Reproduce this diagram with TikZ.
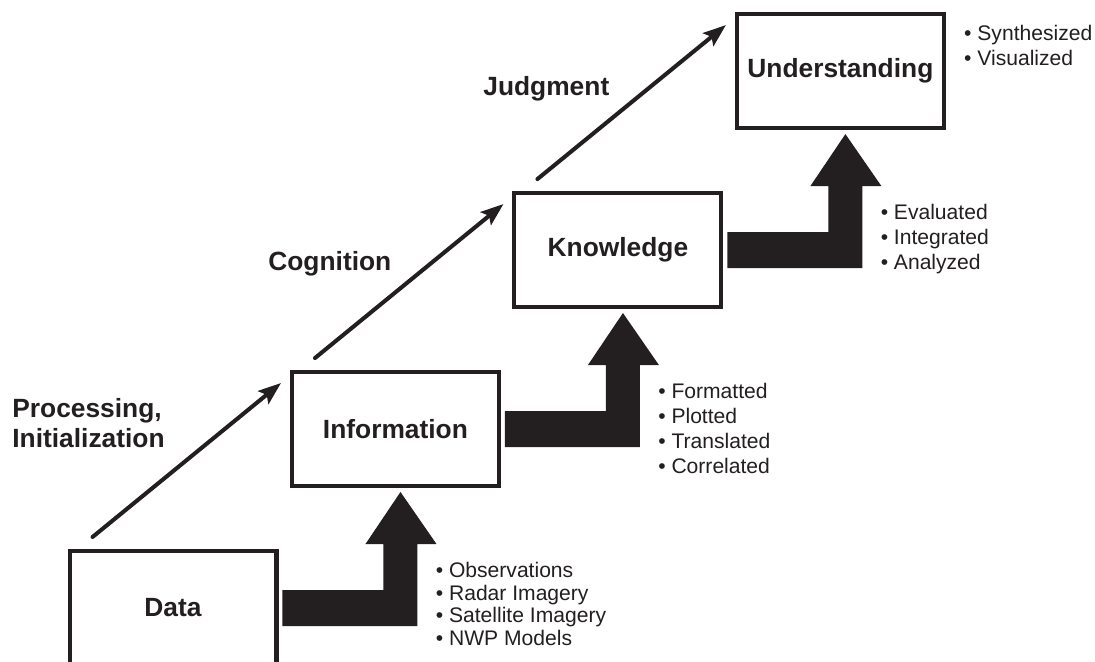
\documentclass[tikz,border=0pt]{standalone}
\usepackage{fontspec}
\setmainfont{Liberation Sans}
\usepackage{tikz}
\usetikzlibrary{positioning,calc,arrows.meta}
\definecolor{ink}{HTML}{231F20}

\begin{document}
\begin{tikzpicture}[
    x=0.02cm, y=-0.02cm,
    stage/.style={draw=ink, line width=2.3pt, outer sep=0pt, minimum width=4.14cm, minimum height=2.28cm, text=ink, font=\fontsize{15}{18}\selectfont\bfseries},
    phase/.style={text=ink, align=left, inner sep=0pt, font=\fontsize{15}{17}\selectfont\bfseries},
    flow/.style={draw=ink, line width=2.3pt, line cap=round, -{Stealth[length=13pt,width=9.5pt,inset=2.5pt]}},
    items/.style={text=ink, align=left, inner sep=0pt, anchor=north west, font=\fontsize{12}{14.2}\selectfont}
]
\useasboundingbox (0,0) rectangle (1095,662);

% the four stages, one step up and right each
\node[stage] (data) at (173,608) {Data};
\node[stage, above right=1.30cm and 0.31cm of data] (info) {Information};
\node[stage, above right=1.30cm and 0.31cm of info] (know) {Knowledge};
\node[stage, above right=1.30cm and 0.31cm of know] (under) {Understanding};

% thin arrows between the stages
\foreach \a/\b in {data/info, info/know, know/under}
    \draw[flow] ([shift={(23,-14)}]\a.north west) -- ([shift={(-11,11)}]\b.north west);

\node[phase, anchor=north west] (proc) at (12,398) {Processing,\\Initialization};
\node[phase, anchor=base west] (cogn) at (268,271) {Cognition};
\node[phase, anchor=base west] (judg) at (483,96) {Judgment};

% bent block arrows
\foreach \s in {data,info,know}
    \fill[ink] (\s.east) ++(6,18) -- ++(135,0) -- ++(0,-82) -- ++(19,0) -- ++(-36,-52)
        -- ++(-35,52) -- ++(18,0) -- ++(0,46) -- ++(-101,0) -- cycle;

% bullet lists
\node[items, font=\fontsize{12}{12.9}\selectfont] (datalist) at ($(data.east)+(159,-46)$)
    {• Observations\\• Radar Imagery\\• Satellite Imagery\\• NWP Models};
\node[items] (infolist) at ($(info.east)+(159,-46)$)
    {• Formatted\\• Plotted\\• Translated\\• Correlated};
\node[items] (knowlist) at ($(know.east)+(159,-46)$)
    {• Evaluated\\• Integrated\\• Analyzed};
\node[items] (underlist) at ($(under.east)+(20,-46)$)
    {• Synthesized\\• Visualized};
\end{tikzpicture}
\end{document}
